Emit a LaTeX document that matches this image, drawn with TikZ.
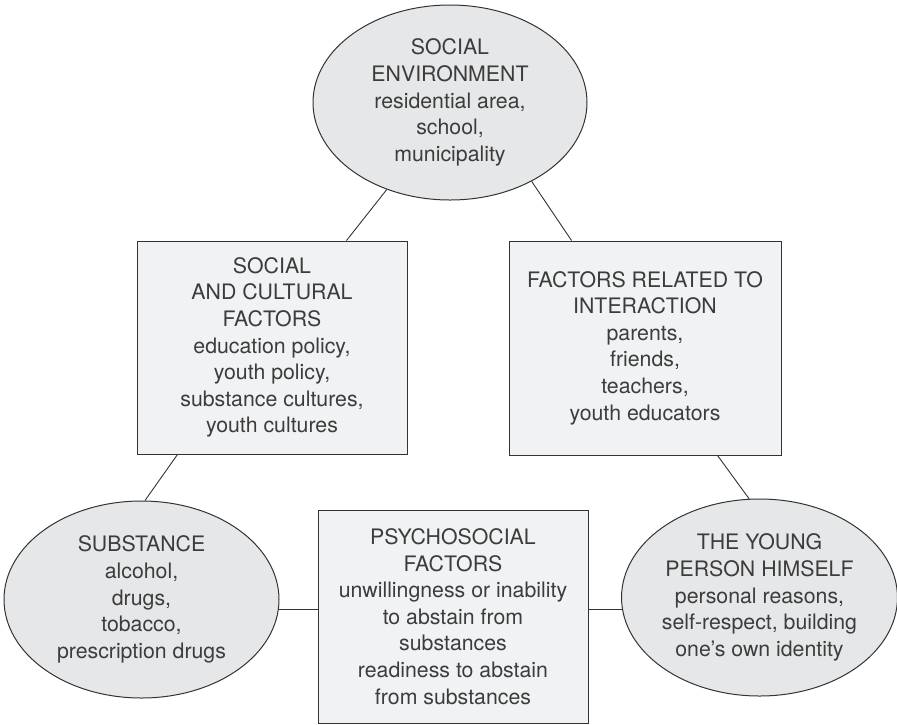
\documentclass[tikz,border=0pt]{standalone}
\usepackage{fontspec}
\setmainfont{TeX Gyre Heros}
\usetikzlibrary{shapes.geometric}
\definecolor{inkc}{HTML}{333333}
\definecolor{txtc}{HTML}{3C3C3C}
\definecolor{ellfill}{HTML}{E6E7E8}
\definecolor{boxfill}{HTML}{F1F2F3}
\tikzset{
  txt/.style={font=\fontsize{21.3pt}{26.6pt}\selectfont, text=txtc, align=center, inner sep=0pt},
  ellnode/.style={txt, ellipse, draw=inkc, line width=1pt, fill=ellfill},
  boxnode/.style={txt, rectangle, draw=inkc, line width=1pt, fill=boxfill},
  link/.style={draw=inkc, line width=0.9pt}
}
\begin{document}
\begin{tikzpicture}[x=1pt,y=-1pt]
\useasboundingbox (0,0) rectangle (897,724);
\node[ellnode, minimum width=274pt, minimum height=195pt] (se) at (450,102.5)
  {SOCIAL\\ENVIRONMENT\\residential area,\\school,\\municipality};
\node[boxnode, minimum width=270pt, minimum height=213pt] (sc) at (272,347.5)
  {SOCIAL\\AND CULTURAL\\FACTORS\\education policy,\\youth policy,\\substance cultures,\\youth cultures};
\node[boxnode, minimum width=272pt, minimum height=214pt] (ri) at (645,348)
  {FACTORS RELATED TO\\INTERACTION\\parents,\\friends,\\teachers,\\youth educators};
\node[ellnode, minimum width=275pt, minimum height=197pt] (sub) at (141.5,599.5)
  {SUBSTANCE\\alcohol,\\drugs,\\tobacco,\\prescription drugs};
\node[boxnode, minimum width=270pt, minimum height=213pt] (ps) at (453,616.5)
  {PSYCHOSOCIAL\\FACTORS\\unwillingness or inability\\to abstain from\\substances\\readiness to abstain\\from substances};
\node[ellnode, minimum width=274pt, minimum height=197pt] (yp) at (759.5,597.5)
  {THE YOUNG\\PERSON HIMSELF\\personal reasons,\\self-respect, building\\one’s own identity};
\draw[link] (se.-126) -- ([xshift=210pt]sc.north west);
\draw[link] (se.-44) -- ([xshift=63pt]ri.north west);
\draw[link] ([xshift=41pt]sc.south west) -- (sub.88);
\draw[link] ([xshift=209pt]ri.south west) -- (yp.96);
\draw[link] (sub.-4) -- (sub.-4 -| ps.west);
\draw[link] (yp.185) -- (yp.185 -| ps.east);
\end{tikzpicture}
\end{document}
